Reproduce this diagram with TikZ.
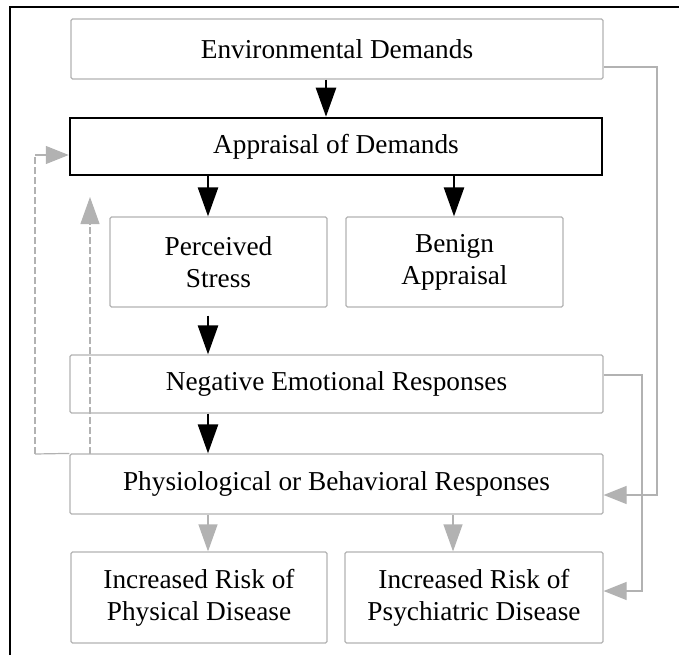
\documentclass[tikz,border=0pt]{standalone}
\usepackage{fontspec}
\setmainfont{Liberation Serif}
\usetikzlibrary{arrows.meta}
\begin{document}
\begin{tikzpicture}[x=1pt,y=-1pt,
  box/.style={draw=gray!60, line width=1.2pt, rounded corners=1.5pt, inner sep=0pt, align=center, font=\fontsize{27.3}{32}\selectfont},
  mainbox/.style={box, draw=black, line width=2.5pt, rounded corners=0pt},
  blackarrow/.style={line width=2.5pt, -{Triangle[length=29pt,width=20pt]}},
  grayarrow/.style={draw=gray!60, line width=1.2pt, -{Triangle[length=27pt,width=19pt,fill=gray!60]}},
  grayleft/.style={draw=gray!60, line width=1.2pt, -{Triangle[length=23pt,width=18pt,fill=gray!60]}},
  feedline/.style={draw=gray!60, line width=1.2pt},
  dashline/.style={dash pattern=on 7pt off 3pt}
]
\useasboundingbox (0,0) rectangle (679,655);
% outer frame
\draw[line width=2.5pt] (10,655) -- (10,7) -- (679,7);

% boxes
\node[box, minimum width=532pt, minimum height=60pt] (env) at (337,49) {Environmental Demands};
\node[mainbox, minimum width=532pt, minimum height=57pt] (appr) at (336,146.5) {Appraisal of Demands};
\node[box, minimum width=217pt, minimum height=90pt] (perc) at (218.5,262) {Perceived\\Stress};
\node[box, minimum width=217pt, minimum height=90pt] (beni) at (454.5,262) {Benign\\Appraisal};
\node[box, minimum width=533pt, minimum height=58pt] (neg) at (336.5,384) {Negative Emotional Responses};
\node[box, minimum width=533pt, minimum height=60pt] (phys) at (336.5,484) {Physiological or Behavioral Responses};
\node[box, minimum width=256pt, minimum height=91pt] (risk1) at (199,597.5) {Increased Risk of\\Physical Disease};
\node[box, minimum width=258pt, minimum height=91pt] (risk2) at (474,597.5) {Increased Risk of\\Psychiatric Disease};

% column coordinates
\coordinate (cM) at (326,0);
\coordinate (cA) at (208,0);
\coordinate (cB) at (454,0);
\coordinate (cB2) at (453,0);
\coordinate (pgap) at ([yshift=-8pt]perc.south);

% main black arrows
\draw[blackarrow] (env.south -| cM) -- (appr.north -| cM);
\draw[blackarrow] (appr.south -| cA) -- (perc.north -| cA);
\draw[blackarrow] (appr.south -| cB) -- (beni.north -| cB);
\draw[blackarrow] (pgap -| cA) -- (neg.north -| cA);
\draw[blackarrow] (neg.south -| cA) -- (phys.north -| cA);

% gray arrows to outcomes
\draw[grayarrow] (phys.south -| cA) -- (risk1.north -| cA);
\draw[grayarrow] (phys.south -| cB2) -- (risk2.north -| cB2);

% right feedback: environment -> physiological
\coordinate (r1) at (657,67);
\coordinate (r2) at (657,495);
\draw[grayleft] (env.east |- r1) -- (r1) -- (r2) -- (phys.east |- r2);

% right feedback: negative emotions -> psychiatric disease
\coordinate (i1) at (642,375);
\coordinate (i2) at (642,591);
\draw[grayleft] (neg.east |- i1) -- (i1) -- (i2) -- (risk2.east |- i2);

% left feedback: physiological -> appraisal
\coordinate (l1) at (35,454);
\coordinate (l2) at (35,155);
\draw[feedline] (phys.north west) -- (l1);
\draw[feedline, dashline] (l1) -- (l2);
\draw[grayleft] (l2) -- (appr.west |- l2);

% left inner upward arrow
\coordinate (u1) at (90,454);
\coordinate (u2) at (90,197);
\draw[grayarrow, dashline] (u1) -- (u2);
\end{tikzpicture}
\end{document}
